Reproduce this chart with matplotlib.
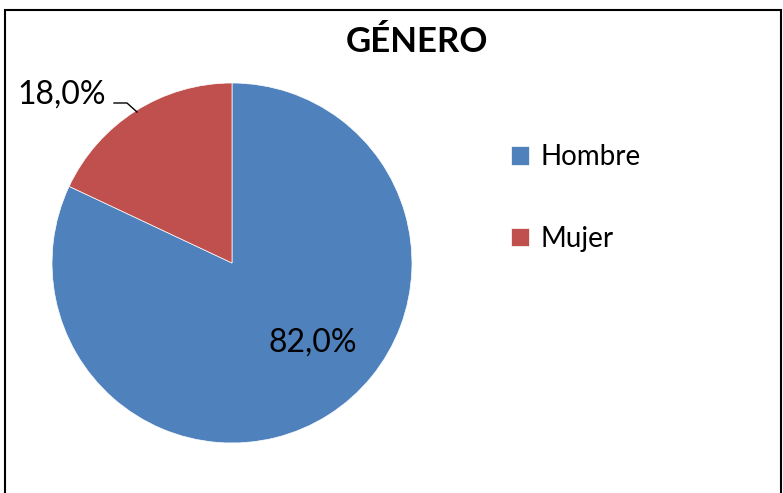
import matplotlib.pyplot as plt
from matplotlib.patches import Rectangle

categories = ['Hombre', 'Mujer']
values = [82.0, 18.0]
colors = ['#4F81BD', '#C0504D']
title = 'GÉNERO'

plt.rcParams['font.family'] = ['Lato', 'DejaVu Sans']

W, H = 783, 493
fig = plt.figure(figsize=(W / 100, H / 100), dpi=100)
ax = fig.add_axes([0, 0, 1, 1])
ax.set_xlim(0, W)
ax.set_ylim(0, H)
ax.set_aspect('equal')
ax.axis('off')

# chart border
ax.add_patch(Rectangle((5, -20), 776, H - 10 + 20, fill=False, edgecolor='black', lw=1.5))

cx, cy, r = 232, H - 263, 180
wedges, _ = ax.pie(values, colors=colors, startangle=90, counterclock=False,
                   center=(cx, cy), radius=r, frame=True,
                   wedgeprops=dict(edgecolor='white', linewidth=0.5))
ax.set_xlim(0, W)
ax.set_ylim(0, H)
ax.axis('off')

def fmt(v):
    return f'{v:.1f}'.replace('.', ',') + '%'

ax.text(313, H - 343, fmt(values[0]), fontsize=23, ha='center', va='center')
ax.text(62, H - 95, fmt(values[1]), fontsize=23, ha='center', va='center')
ax.plot([114, 127, 137], [H - 103, H - 103, H - 112], color='black', lw=1)

ax.text(417, H - 42, title, fontsize=25, fontweight='bold', ha='center', va='center')

leg = ax.legend(wedges, categories, loc='upper left', bbox_to_anchor=(511 / W, 1 - 144 / H),
                frameon=False, fontsize=20, handlelength=0.65, handleheight=0.65,
                handletextpad=0.4, labelspacing=2.0, borderpad=0, borderaxespad=0)

fig.savefig('out.png', dpi=100)
